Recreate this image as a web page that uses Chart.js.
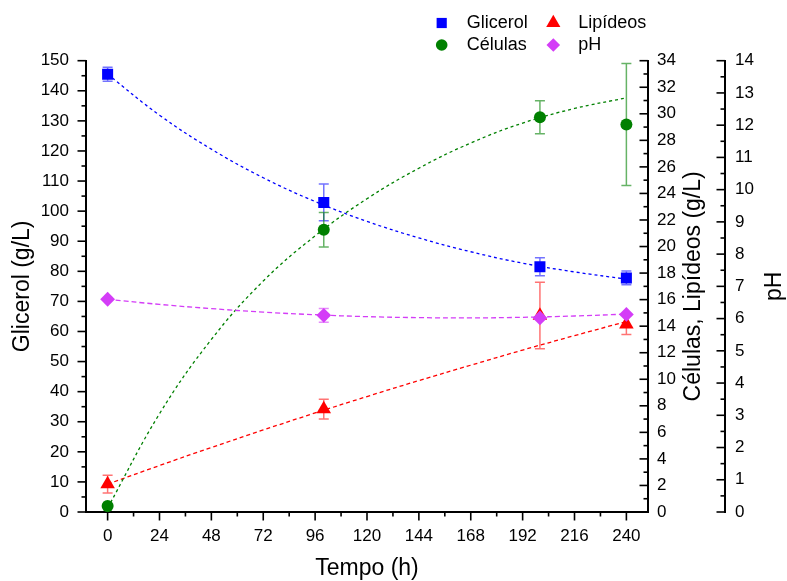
<!DOCTYPE html>
<html lang="pt">
<head>
<meta charset="utf-8">
<title>Glicerol, células, lipídeos e pH</title>
<script src="https://cdn.jsdelivr.net/npm/chart.js@4.4.0/dist/chart.umd.min.js"></script>
<style>
  html, body { margin: 0; padding: 0; background: #fff; }
  #wrap { width: 787px; height: 581px; }
</style>
</head>
<body>
<div id="wrap"><canvas id="fermentChart" width="787" height="581"></canvas></div>
<script>
// sampled points (mean and error)
const hours = [0, 100, 200, 240];
const glicerol = [145.5, 102.9, 81.5, 77.8];
const glicerolErr = [2.3, 6.1, 3.0, 2.3];
const celulas = [0.45, 21.26, 29.74, 29.19];
const celulasErr = [0, 1.3, 1.25, 4.6];
const lipideos = [2.1, 7.75, 14.8, 14.15];
const lipideosErr = [0.66, 0.74, 2.5, 0.77];
const ph = [6.6, 6.1, 6.02, 6.13];
const phErr = [0, 0.21, 0, 0];

// fitted curves
const fitHours = [0, 24, 48, 72, 96, 120, 144, 168, 192, 216, 240];
const glicerolFit = [145.5, 131.9, 120.6, 111.1, 103.2, 96.6, 91.1, 86.5, 82.7, 79.8, 77.4];
const celulasFit = [0.3, 7.4, 13.0, 17.4, 20.8, 23.6, 25.9, 27.8, 29.3, 30.4, 31.2];
const lipideosFit = [2.1, 3.5, 4.86, 6.18, 7.46, 8.7, 9.9, 11.06, 12.2, 13.29, 14.35];
const phFit = [6.6, 6.44, 6.31, 6.2, 6.12, 6.06, 6.03, 6.02, 6.04, 6.08, 6.14];

const xTicks = [0, 24, 48, 72, 96, 120, 144, 168, 192, 216, 240];

const series = [
  { label: "Glicerol", axis: "y", color: "#0000ff", bar: "rgba(0,0,255,0.55)", style: "rect", radius: 7.8,
    values: glicerol, err: glicerolErr, fit: glicerolFit, dash: [3, 3], order: 1 },
  { label: "Células", axis: "y1", color: "#008000", bar: "rgba(0,128,0,0.6)", style: "circle", radius: 6,
    values: celulas, err: celulasErr, fit: celulasFit, dash: [3, 3], order: 2 },
  { label: "Lipídeos", axis: "y1", color: "#ff0000", bar: "rgba(255,0,0,0.55)", style: "triangle", radius: 8.4,
    values: lipideos, err: lipideosErr, fit: lipideosFit, dash: [4, 3], order: 3 },
  { label: "pH", axis: "y2", color: "#d43df7", bar: "rgba(212,61,247,0.6)", style: "rectRot", radius: 7.4,
    values: ph, err: phErr, fit: phFit, dash: [5, 3], order: 0 }
];

const FONT = "'Liberation Sans', Arial, sans-serif";
Chart.defaults.font.family = FONT;
Chart.defaults.color = "#000";

function shape(ctx, style, x, y, r) {
  ctx.beginPath();
  if (style === "rect") {
    const s = r * Math.SQRT1_2;
    ctx.rect(x - s, y - s, 2 * s, 2 * s);
  } else if (style === "circle") {
    ctx.arc(x, y, r, 0, Math.PI * 2);
  } else if (style === "triangle") {
    ctx.moveTo(x, y - r);
    ctx.lineTo(x + r * 0.866, y + r / 2);
    ctx.lineTo(x - r * 0.866, y + r / 2);
    ctx.closePath();
  } else {
    ctx.moveTo(x, y - r);
    ctx.lineTo(x + r, y);
    ctx.lineTo(x, y + r);
    ctx.lineTo(x - r, y);
    ctx.closePath();
  }
  ctx.fill();
}

// vertical error bars with caps, under the markers
const errorBars = {
  id: "errorBars",
  beforeDatasetsDraw(chart) {
    const ctx = chart.ctx;
    const xs = chart.scales.x;
    series.forEach(s => {
      const ys = chart.scales[s.axis];
      ctx.save();
      ctx.strokeStyle = s.bar;
      ctx.lineWidth = 1.5;
      hours.forEach((h, i) => {
        const e = s.err[i];
        if (!e) return;
        const px = xs.getPixelForValue(h);
        const top = ys.getPixelForValue(s.values[i] + e);
        const bot = ys.getPixelForValue(s.values[i] - e);
        ctx.beginPath();
        ctx.moveTo(px, top); ctx.lineTo(px, bot);
        ctx.moveTo(px - 5, top); ctx.lineTo(px + 5, top);
        ctx.moveTo(px - 5, bot); ctx.lineTo(px + 5, bot);
        ctx.stroke();
      });
      ctx.restore();
    });
  }
};

// major + minor tick marks; right axes point inward
const axisTicks = {
  id: "axisTicks",
  afterDraw(chart) {
    const ctx = chart.ctx;
    ctx.save();
    ctx.strokeStyle = "#000";
    ctx.lineWidth = 1.6;
    Object.values(chart.scales).forEach(scale => {
      const vals = scale.ticks.map(t => t.value);
      const minors = [];
      for (let i = 0; i < vals.length - 1; i++) minors.push((vals[i] + vals[i + 1]) / 2);
      const mark = (v, len) => {
        const p = scale.getPixelForValue(v);
        ctx.beginPath();
        if (scale.axis === "x") {
          ctx.moveTo(p, scale.top); ctx.lineTo(p, scale.top + len);
        } else if (scale.position === "left") {
          ctx.moveTo(scale.right, p); ctx.lineTo(scale.right - len, p);
        } else {
          ctx.moveTo(scale.left, p); ctx.lineTo(scale.left - len, p);
        }
        ctx.stroke();
      };
      vals.forEach(v => mark(v, 8.5));
      minors.forEach(v => mark(v, 4.5));
    });
    ctx.restore();
  }
};

// right-hand axis titles (read bottom to top) and the 2x2 legend
const extras = {
  id: "extras",
  afterDraw(chart) {
    const ctx = chart.ctx;
    const area = chart.chartArea;
    const midY = (area.top + area.bottom) / 2;
    ctx.save();
    ctx.fillStyle = "#000";
    ctx.font = "23px " + FONT;
    ctx.textAlign = "center";
    ctx.textBaseline = "middle";
    [["Células, Lipídeos (g/L)", 694], ["pH", 775]].forEach(([txt, x]) => {
      ctx.save();
      ctx.translate(x, midY);
      ctx.rotate(-Math.PI / 2);
      ctx.fillText(txt, 0, 0);
      ctx.restore();
    });

    const cols = [441.7, 553.3];
    const rows = [23, 45];
    const slots = [[0, 0], [1, 0], [0, 1], [1, 1]]; // Glicerol, Lipídeos / Células, pH
    const legendOrder = [0, 2, 1, 3];
    const legendRadius = { rect: 7.2, circle: 5.8, triangle: 8.2, rectRot: 6.8 };
    ctx.font = "18px " + FONT;
    ctx.textAlign = "left";
    legendOrder.forEach((si, k) => {
      const s = series[si];
      const [c, r] = slots[k];
      ctx.fillStyle = s.color;
      shape(ctx, s.style, cols[c], rows[r], legendRadius[s.style]);
      ctx.fillStyle = "#000";
      ctx.fillText(s.label, cols[c] + 25, rows[r]);
    });
    ctx.restore();
  }
};

const datasets = [];
series.forEach(s => {
  datasets.push({
    label: s.label + " (ajuste)",
    data: fitHours.map((h, i) => ({ x: h, y: s.fit[i] })),
    yAxisID: s.axis,
    showLine: true,
    borderColor: s.color,
    borderWidth: 1.3,
    borderDash: s.dash,
    tension: 0.4,
    pointRadius: 0,
    order: 10 + s.order
  });
  datasets.push({
    label: s.label,
    data: hours.map((h, i) => ({ x: h, y: s.values[i] })),
    yAxisID: s.axis,
    showLine: false,
    pointStyle: s.style,
    pointRadius: s.radius,
    pointBackgroundColor: s.color,
    pointBorderColor: s.color,
    pointBorderWidth: 0,
    order: s.order
  });
});

const tickFont = { size: 17 };
const titleFont = { size: 23, lineHeight: 1.1 };
const axisBorder = { display: true, color: "#000", width: 2 };
const noGrid = { display: false, drawTicks: false };

new Chart(document.getElementById("fermentChart").getContext("2d"), {
  type: "scatter",
  data: { datasets },
  options: {
    responsive: false,
    animation: false,
    devicePixelRatio: 1,
    layout: { padding: { top: 60.7, right: 0, bottom: 0, left: 0 } },
    plugins: { legend: { display: false }, tooltip: { enabled: false } },
    scales: {
      x: {
        type: "linear",
        min: -10,
        max: 250,
        afterBuildTicks: s => { s.ticks = xTicks.map(v => ({ value: v })); },
        afterFit: s => { s.height = 69; },
        grid: noGrid,
        border: axisBorder,
        ticks: { padding: 14, font: tickFont, color: "#000", maxRotation: 0, autoSkip: false },
        title: { display: true, text: "Tempo (h)", font: titleFont, padding: 0, color: "#000" }
      },
      y: {
        position: "left",
        min: 0,
        max: 150,
        afterFit: s => { s.width = 86; },
        grid: noGrid,
        border: axisBorder,
        ticks: { stepSize: 10, padding: 17, font: tickFont, color: "#000", autoSkip: false },
        title: { display: true, text: "Glicerol (g/L)", font: titleFont, padding: { top: 10.5, bottom: 0 }, color: "#000" }
      },
      y1: {
        position: "right",
        min: 0,
        max: 34,
        afterFit: s => { s.width = 77; },
        grid: noGrid,
        border: axisBorder,
        ticks: { stepSize: 2, padding: 9, font: tickFont, color: "#000", autoSkip: false }
      },
      y2: {
        position: "right",
        min: 0,
        max: 14,
        afterFit: s => { s.width = 62; },
        grid: noGrid,
        border: axisBorder,
        ticks: { stepSize: 1, padding: 10, font: tickFont, color: "#000", autoSkip: false }
      }
    }
  },
  plugins: [errorBars, axisTicks, extras]
});
</script>
</body>
</html>
